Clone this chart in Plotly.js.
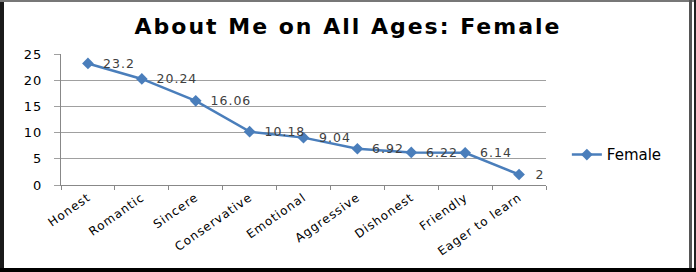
<!DOCTYPE html>
<html>
<head>
<meta charset="utf-8">
<script src="https://cdn.plot.ly/plotly-3.0.1.min.js"></script>
<style>
  html, body { margin: 0; padding: 0; background: #fff; }
  #wrap { position: relative; width: 696px; height: 272px; overflow: hidden; }
  #chart { width: 696px; height: 272px; }
  #chart .xtick text, #chart .ytick text { letter-spacing: 1px; }
  #chart .gtitle { letter-spacing: 2px; }
  #chart .annotation-text { letter-spacing: 1px; }
  .b { position: absolute; pointer-events: none; }
</style>
</head>
<body>
<div id="wrap">
  <div id="chart"></div>
  <div class="b" style="left:0;top:0;width:4px;height:272px;background:#1a1a1a;"></div>
  <div class="b" style="left:0;top:0;width:696px;height:2px;background:#777;"></div>
  <div class="b" style="left:689px;top:0;width:3px;height:272px;background:#555;"></div>
  <div class="b" style="left:694px;top:0;width:2px;height:272px;background:#222;"></div>
  <div class="b" style="left:0;top:268px;width:696px;height:4px;background:#000;"></div>
</div>
<script>
const categories = ["Honest", "Romantic", "Sincere", "Conservative", "Emotional", "Aggressive", "Dishonest", "Friendly", "Eager to learn"];
const femaleValues = [23.2, 20.24, 16.06, 10.18, 9.04, 6.92, 6.22, 6.14, 2];
const valueLabels = ["23.2", "20.24", "16.06", "10.18", "9.04", "6.92", "6.22", "6.14", "2"];
const yTickVals = [0, 5, 10, 15, 20, 25];

const font = "DejaVu Sans, Verdana, sans-serif";

const trace = {
  type: "scatter",
  mode: "lines+markers",
  name: "Female",
  x: categories,
  y: femaleValues,
  line: { color: "#4A7EBB", width: 2.5 },
  marker: { symbol: "diamond", size: 9, color: "#4A7EBB" },
  cliponaxis: false
};

const annotations = categories.map((c, i) => ({
  x: c,
  y: femaleValues[i],
  xref: "x",
  yref: "y",
  text: valueLabels[i],
  showarrow: false,
  xanchor: "left",
  yanchor: "middle",
  xshift: 15,
  font: { family: font, size: 12.5, color: "#404040" }
}));

const layout = {
  width: 696,
  height: 272,
  margin: { l: 61, r: 150, t: 54, b: 87 },
  paper_bgcolor: "#ffffff",
  plot_bgcolor: "#ffffff",
  title: {
    text: "<b>About Me on All Ages: Female</b>",
    font: { family: font, size: 22, color: "#000000" },
    x: 0.5, xref: "container", xanchor: "center",
    y: 0.905, yref: "container", yanchor: "middle"
  },
  xaxis: {
    type: "category",
    tickson: "boundaries",
    ticks: "outside",
    ticklen: 4,
    tickcolor: "#888888",
    showline: true,
    linecolor: "#888888",
    linewidth: 1,
    showgrid: false,
    tickangle: -35,
    tickfont: { family: font, size: 12, color: "#000000" },
    range: [-0.5, 8.5]
  },
  yaxis: {
    range: [0, 25],
    tickvals: yTickVals,
    ticktext: yTickVals.map(String),
    ticks: "outside",
    ticklen: 6,
    tickcolor: "#a0a0a0",
    showline: true,
    linecolor: "#888888",
    linewidth: 1,
    showgrid: true,
    gridcolor: "#a0a0a0",
    gridwidth: 1,
    zeroline: false,
    tickfont: { family: font, size: 13, color: "#000000" },
    ticklabelstandoff: 9
  },
  annotations: annotations,
  showlegend: true,
  legend: {
    x: 1.043, xanchor: "left",
    y: 0.23, yanchor: "middle",
    font: { family: font, size: 15, color: "#000000" },
    bgcolor: "rgba(0,0,0,0)",
    itemwidth: 30
  }
};

Plotly.newPlot("chart", [trace], layout, { displayModeBar: false, staticPlot: true });
</script>
</body>
</html>
